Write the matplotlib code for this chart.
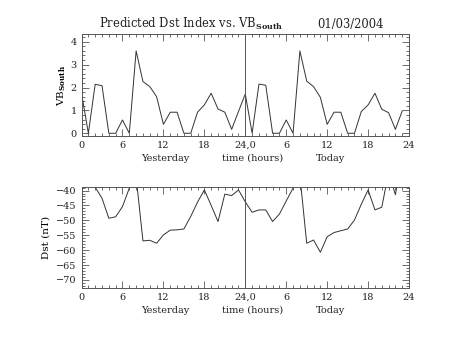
import numpy as np
import matplotlib
matplotlib.use('Agg')
import matplotlib.pyplot as plt
from matplotlib.ticker import MultipleLocator

# hourly values, yesterday 0-23 then today 24-47
hours = np.arange(0, 48)
vb_south = [1.75, 0.0, 2.14, 2.08, 0.0, 0.0, 0.58, 0.0, 3.6, 2.26, 2.04, 1.6,
            0.39, 0.92, 0.92, 0.0, 0.0, 0.92, 1.24, 1.75, 1.06, 0.92, 0.17, 0.95,
            1.72, 0.0, 2.15, 2.1, 0.0, 0.0, 0.58, 0.0, 3.6, 2.28, 2.04, 1.57,
            0.39, 0.92, 0.92, 0.0, 0.0, 0.95, 1.24, 1.75, 1.05, 0.9, 0.17, 0.98]
dst = [-34.0, -36.0, -38.9, -42.6, -49.3, -48.8, -45.4, -39.2, -35.5, -56.9, -56.7, -57.7,
       -54.9, -53.3, -53.2, -52.9, -48.7, -43.9, -39.8, -45.0, -50.4, -41.2, -41.7, -39.8,
       -43.8, -47.3, -46.5, -46.5, -50.4, -47.9, -43.5, -39.2, -35.0, -57.7, -56.6, -60.7,
       -55.5, -54.1, -53.5, -52.9, -49.9, -44.6, -39.8, -46.5, -45.6, -34.0, -41.4, -28.0]

xticks = [0, 6, 12, 18, 24, 30, 36, 42, 48]
xlabels = ['0', '6', '12', '18', '24,0', '6', '12', '18', '24']

plt.rcParams['font.family'] = 'DejaVu Serif'
plt.rcParams['mathtext.fontset'] = 'dejavuserif'
axcol = '#555555'
txtcol = '#222222'

fig = plt.figure(figsize=(4.53, 3.40), dpi=100)
ax1 = fig.add_axes([0.180, 0.600, 0.723, 0.300])
ax2 = fig.add_axes([0.180, 0.153, 0.723, 0.298])


def style(ax):
    ax.set_xlim(0, 48)
    ax.set_xticks(xticks)
    ax.set_xticklabels(xlabels)
    ax.xaxis.set_minor_locator(MultipleLocator(1))
    ax.tick_params(which='both', direction='in', top=True, right=True,
                   colors=axcol, labelcolor=txtcol, labelsize=7, width=0.6)
    ax.tick_params(which='major', length=5, pad=3.5)
    ax.tick_params(which='minor', length=2.5)
    for s in ax.spines.values():
        s.set_color(axcol)
        s.set_linewidth(0.7)
    ax.axvline(24, color=axcol, lw=0.7)
    tr = ax.get_xaxis_transform()
    ax.text(12.3, -0.245, 'Yesterday', transform=tr,
            ha='center', va='baseline', fontsize=7, color=txtcol)
    ax.text(25.0, -0.245, 'time (hours)', transform=tr,
            ha='center', va='baseline', fontsize=7, color=txtcol)
    ax.text(36.5, -0.245, 'Today', transform=tr,
            ha='center', va='baseline', fontsize=7, color=txtcol)


ax1.plot(hours, vb_south, color='#333333', lw=0.7)
ax1.set_ylim(-0.12, 4.34)
ax1.set_yticks([0, 1, 2, 3, 4])
ax1.yaxis.set_minor_locator(MultipleLocator(0.2))
style(ax1)
ax1.set_ylabel(r'VB$_{\mathbf{South}}$', fontsize=7.5, labelpad=2)

ax2.plot(hours, dst, color='#333333', lw=0.7)
ax2.set_ylim(-72.7, -38.7)
ax2.set_yticks([-40, -45, -50, -55, -60, -65, -70])
ax2.yaxis.set_minor_locator(MultipleLocator(1))
style(ax2)
ax2.set_ylabel('Dst (nT)', fontsize=7.5, labelpad=4)

fig.text(99 / 453, 0.929, r'Predicted Dst Index vs. VB$_{\mathbf{South}}$',
         ha='left', va='center', fontsize=8.3, color=txtcol)
fig.text(384 / 453, 0.929, '01/03/2004',
         ha='right', va='center', fontsize=8.3, color=txtcol)

fig.savefig('out.png', dpi=100)
